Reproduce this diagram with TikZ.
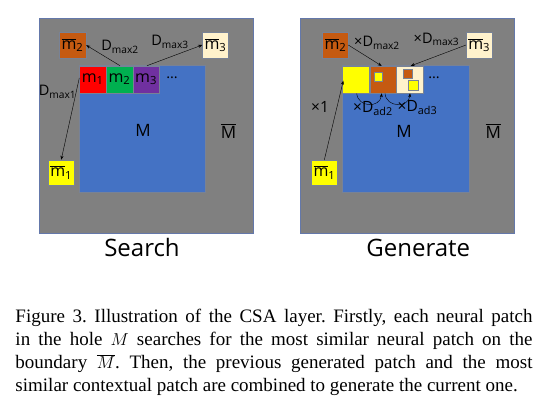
\documentclass[tikz,border=0pt]{standalone}
\usepackage{fontspec}
\setmainfont{Liberation Serif}
\newfontfamily\diafont{Open Sans}
\usetikzlibrary{arrows.meta}
\definecolor{panelgray}{RGB}{128,128,128}
\definecolor{paneledge}{RGB}{100,120,170}
\definecolor{mblue}{RGB}{68,114,196}
\definecolor{mred}{RGB}{255,0,0}
\definecolor{mgreen}{RGB}{0,176,80}
\definecolor{mpurple}{RGB}{112,48,160}
\definecolor{mbrown}{RGB}{197,90,17}
\definecolor{mcream}{RGB}{255,242,204}
\definecolor{myellow}{RGB}{255,255,0}
\definecolor{patchedge}{RGB}{120,130,150}
\newcommand{\mbar}[1]{$\overline{\mbox{m}}$\textsubscript{#1}}
\newcommand{\mpl}[1]{m\textsubscript{#1}}
\begin{document}
\begin{tikzpicture}[x=1pt,y=-1pt,
  panel/.style={draw=paneledge,fill=panelgray,line width=0.6pt},
  patch/.style={draw=patchedge,line width=0.5pt,inner sep=0pt,minimum width=26.7pt,minimum height=27pt,font=\diafont\fontsize{16}{16}\selectfont},
  barbox/.style={draw=patchedge,line width=0.5pt,inner sep=0pt,minimum width=26pt,minimum height=26pt,font=\diafont\fontsize{16}{16}\selectfont},
  small/.style={draw=patchedge,line width=0.4pt,inner sep=0pt},
  lab/.style={font=\diafont\fontsize{14.5}{14.5}\selectfont,inner sep=0pt},
  labg/.style={font=\diafont\fontsize{15.5}{15.5}\selectfont,inner sep=0pt},
  big/.style={font=\diafont\fontsize{17}{17}\selectfont,inner sep=0pt},
  arr/.style={-{Stealth[length=4pt,width=3pt]},line width=0.4pt,black},
  ]
\useasboundingbox (0,0) rectangle (542,404);
% ---------------- Search panel ----------------
\node[panel,minimum width=214.5pt,minimum height=215pt,inner sep=0pt] (panelL) at (146.2,125.5) {};
\node[fill=mblue,draw=patchedge,line width=0.4pt,minimum width=126pt,minimum height=126.6pt,inner sep=0pt] (ML) at (142.3,129) {};
\node[big] (MlabL) at (143,130) {M};
\node[big] (MbL) at (228.5,131) {$\overline{\mbox{M}}$};
\node[patch,fill=mred] (m1) at (92.7,79.3) {\mpl{1}};
\node[patch,fill=mgreen] (m2) at (119.4,79.3) {\mpl{2}};
\node[patch,fill=mpurple] (m3) at (146.1,79.3) {\mpl{3}};
\node[lab] (dotsL) at (172,78) {…};
\node[barbox,fill=mbrown,minimum width=27pt] (mb2L) at (72.5,45.2) {\mbar{2}};
\node[barbox,fill=mcream] (mb3L) at (215.5,45) {\mbar{3}};
\node[barbox,fill=myellow,minimum height=25pt] (mb1L) at (61.2,172.5) {\mbar{1}};
\coordinate (a2s) at (120,65.7);
\coordinate (a3s) at (147,65.7);
\coordinate (a1s) at (79.3,78);
\draw[arr] (a2s) -- (mb2L.east);
\draw[arr] (a3s) -- (mb3L.west);
\draw[arr] (a1s) -- (mb1L.north);
\node[lab] (dmax2) at (120,47) {D\textsubscript{max2}};
\node[lab] (dmax3) at (170,42) {D\textsubscript{max3}};
\node[lab] (dmax1) at (57.5,92) {D\textsubscript{max1}};
\node[font=\diafont\fontsize{24}{24}\selectfont,inner sep=0pt] (search) at (142,248) {Search};
% ---------------- Generate panel ----------------
\node[panel,minimum width=213.6pt,minimum height=215pt,inner sep=0pt] (panelR) at (407.5,125.5) {};
\node[fill=mblue,draw=patchedge,line width=0.4pt,minimum width=126.3pt,minimum height=126.6pt,inner sep=0pt] (MR) at (405.8,129) {};
\node[big] (MlabR) at (404,131.7) {M};
\node[big] (MbR) at (493.3,131) {$\overline{\mbox{M}}$};
\node[patch,fill=myellow,minimum width=27pt] (g1) at (356.2,79.3) {};
\node[patch,fill=mbrown] (g2) at (383.4,79.3) {};
\node[patch,fill=mcream] (g3) at (410,79.3) {};
\node[small,fill=myellow,minimum size=8.5pt] (g2y) at (378.3,76.6) {};
\node[small,fill=mbrown,minimum size=9pt] (g3b) at (407.2,73.8) {};
\node[small,fill=myellow,minimum size=10pt] (g3y) at (413,85.7) {};
\node[lab] (dotsR) at (434,78) {…};
\node[barbox,fill=mbrown] (mb2R) at (335.5,45.3) {\mbar{2}};
\node[barbox,fill=mcream,minimum width=26.3pt] (mb3R) at (479.2,45) {\mbar{3}};
\node[barbox,fill=myellow,minimum height=25pt] (mb1R) at (324.5,172.5) {\mbar{1}};
\coordinate (b2t) at (381.7,65.9);
\coordinate (b3t) at (410.7,65.9);
\coordinate (b1l) at (343.3,80.7);
\coordinate (b2s) at (348.3,45);
\coordinate (b3s) at (466,45);
\coordinate (b1s) at (324.3,160);
\draw[arr] (b2s) -- (b2t);
\draw[arr] (b3s) -- (b3t);
\draw[arr] (b1s) -- (b1l);
\coordinate (c1s) at (356.7,93.3);
\coordinate (c1e) at (381.7,93.3);
\coordinate (c2s) at (385,93.3);
\coordinate (c2e) at (410,93.3);
\draw[arr] (c1s) .. controls (358,108) and (380,108) .. (c1e);
\draw[arr] (c2s) .. controls (386,108) and (409,108) .. (c2e);
\node[lab] (xdmax2) at (377,43) {×D\textsubscript{max2}};
\node[lab] (xdmax3) at (436.5,39.5) {×D\textsubscript{max3}};
\node[labg] (x1) at (320,106.7) {×1};
\node[labg] (xdad2) at (373,108.5) {×D\textsubscript{ad2}};
\node[labg] (xdad3) at (417.5,107.5) {×D\textsubscript{ad3}};
\node[font=\diafont\fontsize{24}{24}\selectfont,inner sep=0pt] (generate) at (418.3,248) {Generate};
% ---------------- Caption ----------------
\node[anchor=north west,inner sep=0pt,text width=517pt,align=justify,font=\fontsize{19}{23}\selectfont] (caption) at (15.3,309)
{\frenchspacing Figure 3. Illustration of the CSA layer. Firstly, each neural patch\linebreak
in the hole $M$ searches for the most similar neural patch on the\linebreak
boundary $\overline{M}$. Then, the previous generated patch and the most\linebreak
similar contextual patch are combined to generate the current one.};
\end{tikzpicture}
\end{document}
